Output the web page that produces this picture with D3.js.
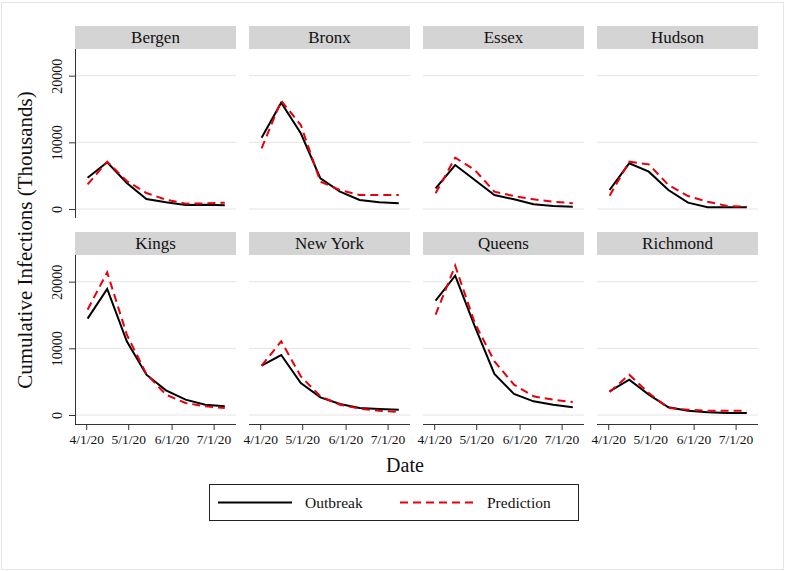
<!DOCTYPE html>
<html>
<head>
    <title>Cumulative Infections by County</title>
    <script src="https://d3js.org/d3.v7.min.js"></script>
    <style>
        body { margin: 0; background: #fff; }
        text { font-family: "Liberation Serif", "Times New Roman", serif; fill: #111; }
    </style>
</head>
<body>
    <svg width="785" height="571"></svg>
    <script>
        // Data (thousands)
        var counties = ["Bergen", "Bronx", "Essex", "Hudson", "Kings", "New York", "Queens", "Richmond"];
        var dates = ["2020-04-02", "2020-04-16", "2020-04-30", "2020-05-14",
                     "2020-05-28", "2020-06-11", "2020-06-25", "2020-07-09"];

        var outbreak = [
            [4700, 7000, 3900, 1500, 1000, 600, 650, 550],      // Bergen
            [10700, 15950, 11350, 4600, 2600, 1350, 1000, 850], // Bronx
            [3100, 6600, 4350, 2100, 1450, 700, 450, 350],      // Essex
            [2850, 6850, 5600, 2850, 950, 250, 250, 250],       // Hudson
            [14450, 18900, 11050, 6050, 3700, 2300, 1550, 1300],// Kings
            [7400, 9000, 4800, 2650, 1650, 1050, 900, 800],     // New York
            [17150, 20900, 13300, 6150, 3150, 2050, 1550, 1150],// Queens
            [3550, 5300, 3050, 1150, 650, 400, 300, 300]        // Richmond
        ];
        var prediction = [
            [3700, 7100, 4200, 2400, 1400, 800, 850, 950],
            [9100, 16250, 12600, 4100, 2850, 2100, 2100, 2100],
            [2350, 7700, 5850, 2600, 1950, 1450, 1100, 850],
            [2000, 7100, 6700, 3600, 1950, 1100, 450, 350],
            [15800, 21400, 12050, 6150, 3050, 1800, 1300, 1050],
            [7400, 11050, 5800, 2800, 1550, 950, 650, 450],
            [15050, 22400, 13800, 8050, 4550, 2800, 2300, 1950],
            [3450, 6050, 3300, 1050, 800, 650, 650, 650]
        ];
        var yTicks = [0, 10000, 20000];
        var xTicks = ["2020-04-01", "2020-05-01", "2020-06-01", "2020-07-01"];

        var parse = d3.timeParse("%Y-%m-%d");
        var fmt = d3.timeFormat("%-m/%-d/%y");

        var svg = d3.select("svg");

        // faint outer frame
        svg.append("rect")
            .attr("x", 1.5).attr("y", 2.5)
            .attr("width", 782).attr("height", 567)
            .attr("fill", "none").attr("stroke", "#e6e6e6");

        var colX = [75, 249, 423, 597];
        var panelW = 161;
        var stripTop = [26, 232];
        var stripH = 23;
        var plotH = 169;

        var xScale = d3.scaleTime()
            .domain([new Date(2020, 2, 24), new Date(2020, 6, 17)])
            .range([0, panelW]);
        var yScale = d3.scaleLinear()
            .domain([-1350, 24000])
            .range([plotH, 0]);

        var line = d3.line()
            .x(function(d) { return xScale(d.date); })
            .y(function(d) { return yScale(d.value); });

        counties.forEach(function(name, i) {
            var row = Math.floor(i / 4), col = i % 4;
            var g = svg.append("g")
                .attr("transform", "translate(" + colX[col] + "," + stripTop[row] + ")");

            // strip title
            g.append("rect")
                .attr("width", panelW).attr("height", stripH)
                .attr("fill", "#d4d4d4");
            g.append("text")
                .attr("x", panelW / 2).attr("y", 17)
                .attr("text-anchor", "middle")
                .style("font-size", "17px")
                .text(name);

            var p = g.append("g").attr("transform", "translate(0," + stripH + ")");

            // gridlines
            p.selectAll(".grid")
                .data(yTicks)
                .enter().append("line")
                .attr("x1", 0).attr("x2", panelW)
                .attr("y1", function(d) { return yScale(d); })
                .attr("y2", function(d) { return yScale(d); })
                .attr("stroke", "#e4e4e4").attr("stroke-width", 1);

            // y axis on first column
            if (col === 0) {
                var yAxis = d3.axisLeft(yScale).tickValues(yTicks).tickSize(6).tickFormat(d3.format("d"));
                var ya = p.append("g").call(yAxis);
                ya.select(".domain").attr("d", "M0.5,0V" + plotH).attr("stroke", "#333");
                ya.selectAll(".tick line").attr("stroke", "#333");
                ya.selectAll(".tick text")
                    .attr("x", null).attr("dy", null)
                    .attr("text-anchor", "middle")
                    .attr("transform", "translate(-13.5,0) rotate(-90)")
                    .style("font-size", "14px")
                    .style("font-family", "'Liberation Serif', 'Times New Roman', serif")
                    .attr("fill", "#222");
            }

            // x axis on bottom row
            if (row === 1) {
                var xAxis = d3.axisBottom(xScale)
                    .tickValues(xTicks.map(parse))
                    .tickSize(6)
                    .tickFormat(fmt);
                var xa = p.append("g")
                    .attr("transform", "translate(0," + plotH + ")")
                    .call(xAxis);
                xa.select(".domain").attr("d", "M0,0.5H" + panelW).attr("stroke", "#333");
                xa.selectAll(".tick line").attr("stroke", "#333");
                xa.selectAll(".tick text")
                    .attr("y", 10)
                    .style("font-size", "13.5px")
                    .style("font-family", "'Liberation Serif', 'Times New Roman', serif")
                    .attr("fill", "#222");
            }

            var obs = dates.map(function(d, k) { return { date: parse(d), value: outbreak[i][k] }; });
            var pred = dates.map(function(d, k) { return { date: parse(d), value: prediction[i][k] }; });

            p.append("path")
                .datum(obs)
                .attr("d", line)
                .attr("fill", "none")
                .attr("stroke", "#000")
                .attr("stroke-width", 2);

            p.append("path")
                .datum(pred)
                .attr("d", line)
                .attr("fill", "none")
                .attr("stroke", "#e8000b")
                .attr("stroke-width", 2)
                .attr("stroke-dasharray", "8,5");
        });

        // axis titles
        svg.append("text")
            .attr("transform", "translate(32,240) rotate(-90)")
            .attr("text-anchor", "middle")
            .style("font-size", "21px")
            .text("Cumulative Infections (Thousands)");

        svg.append("text")
            .attr("x", 405).attr("y", 472)
            .attr("text-anchor", "middle")
            .style("font-size", "20px")
            .text("Date");

        // legend
        var lg = svg.append("g");
        lg.append("rect")
            .attr("x", 209.5).attr("y", 484.5)
            .attr("width", 369).attr("height", 36)
            .attr("fill", "none").attr("stroke", "#222");
        lg.append("line")
            .attr("x1", 218).attr("x2", 292).attr("y1", 502.5).attr("y2", 502.5)
            .attr("stroke", "#000").attr("stroke-width", 2);
        lg.append("text")
            .attr("x", 305).attr("y", 508)
            .style("font-size", "15.5px")
            .text("Outbreak");
        lg.append("line")
            .attr("x1", 400).attr("x2", 475).attr("y1", 502.5).attr("y2", 502.5)
            .attr("stroke", "#e8000b").attr("stroke-width", 2)
            .attr("stroke-dasharray", "8,5");
        lg.append("text")
            .attr("x", 487).attr("y", 508)
            .style("font-size", "15.5px")
            .text("Prediction");
    </script>
</body>
</html>
